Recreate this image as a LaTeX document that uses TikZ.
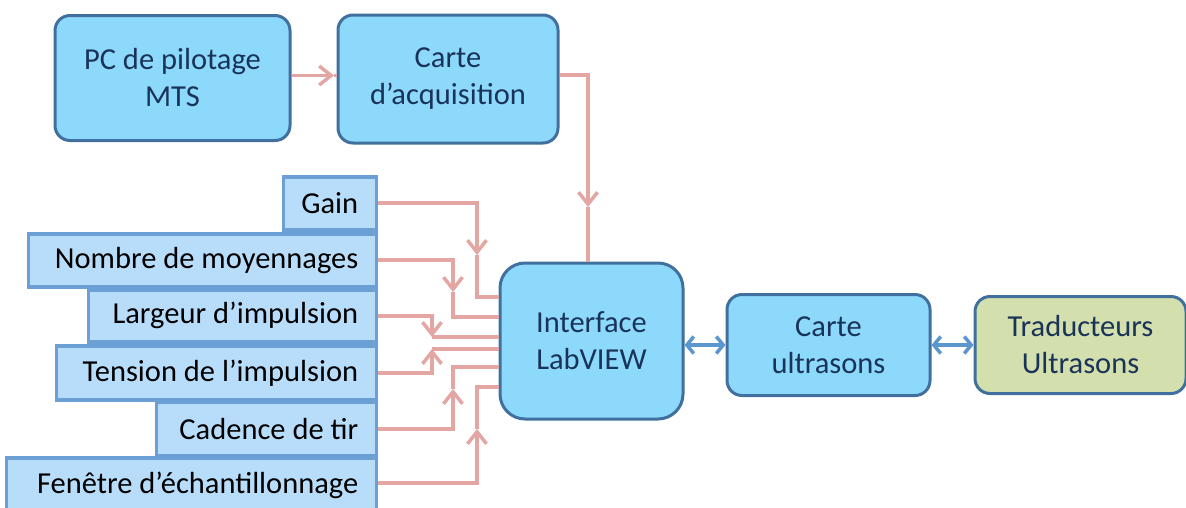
\documentclass[tikz,border=0pt]{standalone}
\usepackage{fontspec}
\setmainfont{Carlito}
\usetikzlibrary{arrows.meta}
\definecolor{cyanfill}{HTML}{8DD9FC}
\definecolor{darkedge}{HTML}{41709F}
\definecolor{greenfill}{HTML}{D3E0AD}
\definecolor{lightfill}{HTML}{B8DDFB}
\definecolor{lightedge}{HTML}{6C9FD3}
\definecolor{pink}{HTML}{E3A6A3}
\definecolor{navytext}{HTML}{1A3358}
\definecolor{dblue}{HTML}{5B96CF}
\begin{document}
\begin{tikzpicture}[x=1pt,y=-1pt,
  mainbox/.style={draw=darkedge, line width=3pt, fill=cyanfill, rounded corners=15pt,
    align=center, text=navytext, font=\fontsize{30.5}{37}\selectfont, inner sep=0pt},
  parbox/.style={draw=lightedge, line width=3.5pt, fill=lightfill, anchor=north east,
    align=flush right, text=black, font=\fontsize{30.5}{36}\selectfont, inner xsep=6pt, inner ysep=0pt,
    text width={#1-12pt}},
  pk/.style={draw=pink, line width=3.7pt},
  pkarrow/.style={pk, -{Straight Barb[length=12pt,width=19pt,line width=3.5pt]}},
  dbl/.style={draw=dblue, line width=4pt, {Straight Barb[length=7pt,width=17pt,line width=3.5pt]}-{Straight Barb[length=7pt,width=17pt,line width=3.5pt]}}
]
\useasboundingbox (0,0) rectangle (1186,507);

% main boxes
\node[mainbox, minimum width=235pt, minimum height=125pt] (pc) at (172.5,78) {PC de pilotage\\MTS};
\node[mainbox, minimum width=220pt, minimum height=128pt] (acq) at (448,79) {Carte\\d’acquisition};
\node[mainbox, minimum width=183pt, minimum height=156pt, rounded corners=25pt] (lab) at (591.5,341) {Interface\\LabVIEW};
\node[mainbox, minimum width=203pt, minimum height=101pt] (us) at (828.5,345) {Carte\\ultrasons};
\node[mainbox, fill=greenfill, minimum width=211pt, minimum height=97pt] (tr) at (1080.5,345) {Traducteurs\\Ultrasons};

% parameter boxes
\node[parbox=93pt, minimum height=53pt] (gain) at (378,175) {Gain\hspace*{12pt}};
\node[parbox=348pt, minimum height=53pt] (nb) at (378,232) {Nombre de moyennages\hspace*{12pt}};
\node[parbox=288pt, minimum height=52pt] (larg) at (378,288) {Largeur d’impulsion\hspace*{12pt}};
\node[parbox=320pt, minimum height=54pt] (tens) at (378,344) {Tension de l’impulsion\hspace*{12pt}};
\node[parbox=220pt, minimum height=54pt] (cad) at (378,400) {Cadence de tir\hspace*{12pt}};
\node[parbox=370pt, minimum height=56pt] (fen) at (378,456) {Fenêtre d’échantillonnage\hspace*{12pt}};

% top connectors
\coordinate (pcmid) at (334,75.5);
\draw[pkarrow] (pc.east |- pcmid) -- (pcmid);
\draw[pk] (pcmid) -- (pcmid -| acq.west);

\coordinate (acqbend) at (588,75);
\coordinate (acqmid) at (588,207);
\draw[pkarrow] (acq.east |- acqbend) -- (acqbend) -- (acqmid);
\draw[pk] (acqmid) -- (acqmid |- lab.north);

% parameter connectors
\coordinate (g1) at (477,255);
\draw[pkarrow] (gain.east) -| (g1);
\draw[pk] (g1) |- ([yshift=44pt]lab.west);

\coordinate (n1) at (453,292);
\draw[pkarrow] (nb.east) -| (n1);
\draw[pk] (n1) |- ([yshift=24pt]lab.west);

\coordinate (l1) at (432,337);
\draw[pkarrow] (larg.east) -| (l1);
\draw[pk] (l1) |- ([yshift=4pt]lab.west);

\coordinate (t1) at (432,349);
\draw[pkarrow] (tens.east) -| (t1);
\draw[pk] (t1) |- ([yshift=-8pt]lab.west);

\coordinate (c1) at (453,389);
\draw[pkarrow] (cad.east) -| (c1);
\draw[pk] (c1) |- ([yshift=-26pt]lab.west);

\coordinate (f1) at (477,429);
\draw[pkarrow] (fen.east |- 0,483) -| (f1);
\draw[pk] (f1) |- ([yshift=-46pt]lab.west);

% double arrows
\draw[dbl] (lab.east |- us.west) -- (us.west);
\draw[dbl] (us.east) -- (tr.west);
\end{tikzpicture}
\end{document}
